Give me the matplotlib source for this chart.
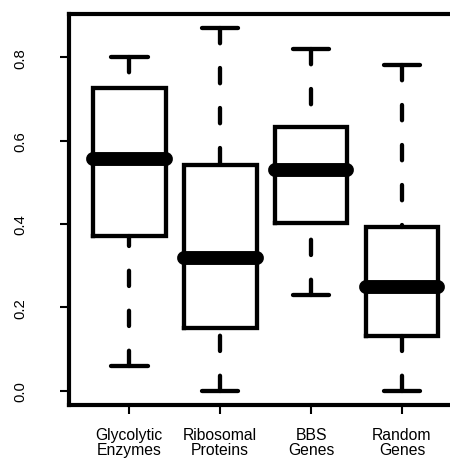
import matplotlib
matplotlib.use("Agg")
import matplotlib.pyplot as plt

plt.rcParams['font.family'] = ['Liberation Sans', 'DejaVu Sans']
plt.rcParams['lines.scale_dashes'] = False

# group labels and five-number summaries
groups = ["Glycolytic\nEnzymes", "Ribosomal\nProteins", "BBS\nGenes", "Random\nGenes"]
whisker_low = [0.06, 0.00, 0.23, 0.00]
q1 = [0.372, 0.150, 0.402, 0.132]
medians = [0.555, 0.318, 0.530, 0.248]
q3 = [0.726, 0.541, 0.632, 0.392]
whisker_high = [0.800, 0.870, 0.820, 0.782]
yticks = [0.0, 0.2, 0.4, 0.6, 0.8]

stats = []
for i in range(len(groups)):
    stats.append(dict(label=groups[i], whislo=whisker_low[i], q1=q1[i], med=medians[i],
                      q3=q3[i], whishi=whisker_high[i], fliers=[]))

fig = plt.figure(figsize=(4.5, 4.6), dpi=100)
ax = fig.add_axes([0.1542, 0.117, 0.8724, 0.8513])

lw = 3.1
res = ax.bxp(
    stats, positions=[1, 2, 3, 4], widths=0.8, capwidths=0.4, showfliers=False,
    boxprops=dict(color='black', linewidth=lw, solid_joinstyle='miter'),
    whiskerprops=dict(color='black', linewidth=lw, linestyle=(0, (11, 17.8)),
                      dash_capstyle='round'),
    capprops=dict(color='black', linewidth=lw, solid_capstyle='round'),
    medianprops=dict(color='black', linewidth=10, solid_capstyle='round'),
)
# R draws the dashes starting from the staple end
for line in res['whiskers']:
    line.set_ydata(line.get_ydata()[::-1])
for line in res['medians']:
    line.set_zorder(5)

ax.set_xlim(0.34, 4.66)
ax.set_ylim(-0.0348, 0.9048)
ax.set_yticks(yticks)
ax.set_yticklabels(["%.1f" % v for v in yticks])

for side in ['left', 'top', 'bottom', 'right']:
    ax.spines[side].set_linewidth(3.0)

ax.tick_params(axis='y', length=6.5, width=1.5, pad=24, labelsize=10.7)
ax.tick_params(axis='x', length=6.5, width=1.5, pad=9, labelsize=11.3)
for lab in ax.get_yticklabels():
    lab.set_rotation(90)
    lab.set_va('center')
    lab.set_ha('right')
for lab in ax.get_xticklabels():
    lab.set_linespacing(1.05)

fig.savefig("out.png", dpi=100)
